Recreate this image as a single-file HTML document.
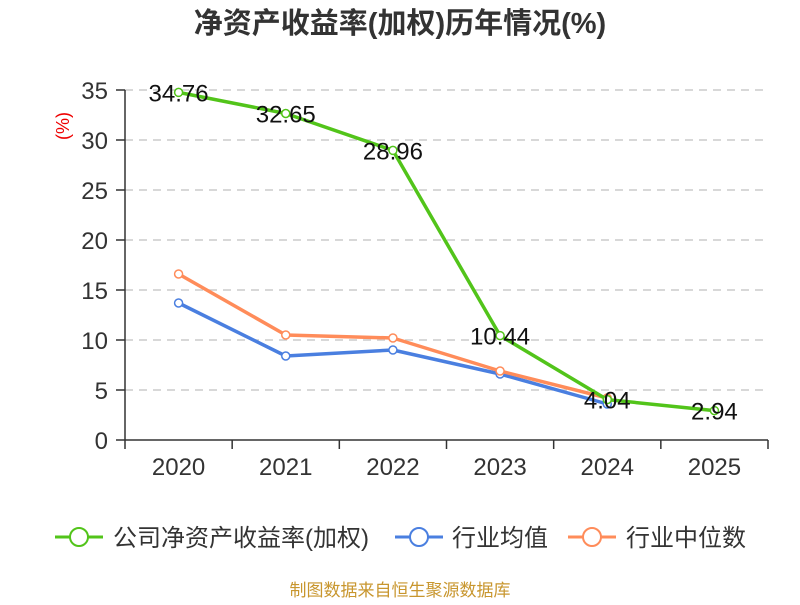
<!DOCTYPE html>
<html><head><meta charset="utf-8">
<style>
body{margin:0;background:#fff;}
svg text{font-family:"Liberation Sans","Noto Sans CJK SC",sans-serif;}
</style></head>
<body>
<svg id="chart" width="800" height="600" xmlns="http://www.w3.org/2000/svg">
<text x="400" y="33" text-anchor="middle" font-size="29" font-weight="bold" fill="#333">净资产收益率(加权)历年情况(%)</text>
<text transform="translate(69,126) rotate(-90)" text-anchor="middle" font-size="18" fill="#e00">(%)</text>
<g id="grid"></g><g id="axes"></g><g id="series"></g>
<g font-size="24" fill="#333">
 <g><line x1="55" y1="537" x2="103" y2="537" stroke="#52c41a" stroke-width="3"/><circle cx="79" cy="537" r="9" fill="#fff" stroke="#52c41a" stroke-width="2"/><text x="113" y="546">公司净资产收益率(加权)</text></g>
 <g><line x1="395" y1="537" x2="443" y2="537" stroke="#4a7fe0" stroke-width="3"/><circle cx="419" cy="537" r="9" fill="#fff" stroke="#4a7fe0" stroke-width="2"/><text x="452" y="546">行业均值</text></g>
 <g><line x1="568" y1="537" x2="616" y2="537" stroke="#ff8c5a" stroke-width="3"/><circle cx="592" cy="537" r="9" fill="#fff" stroke="#ff8c5a" stroke-width="2"/><text x="626" y="546">行业中位数</text></g>
</g>
<text x="400" y="596" text-anchor="middle" font-size="17" fill="#c8962e">制图数据来自恒生聚源数据库</text>
</svg>
<script>
const categories=["2020","2021","2022","2023","2024","2025"];
const companyValues=[34.76,32.65,28.96,10.44,4.04,2.94];
const industryMean=[13.7,8.4,9.0,6.6,3.6,null];
const industryMedian=[16.6,10.5,10.2,6.9,4.2,null];
const yTicks=[0,5,10,15,20,25,30,35];
const NS="http://www.w3.org/2000/svg";
const L=125,R=768,T=90,B=440,yMax=35;
const bw=(R-L)/categories.length;
const x=i=>L+bw*(i+0.5);
const y=v=>B-(v/yMax)*(B-T);
function mk(tag,attrs,parent){const e=document.createElementNS(NS,tag);for(const k in attrs)e.setAttribute(k,attrs[k]);parent.appendChild(e);return e;}
const grid=document.getElementById('grid'),axes=document.getElementById('axes'),ser=document.getElementById('series');
yTicks.forEach(t=>{
 if(t>0){const g=mk('line',{x1:L,x2:R,y1:y(t),y2:y(t),stroke:'#ccc','stroke-dasharray':'8,6','stroke-width':1.5},grid);
 
 }
 const tk=mk('line',{x1:L-9,x2:L,y1:y(t),y2:y(t),stroke:'#333','stroke-width':1.5},axes);
 
 
 const tx=mk('text',{x:L-17,y:y(t)+9,'text-anchor':'end','font-size':24,fill:'#333'},axes);tx.textContent=t;
 
 
});
const ya=mk('line',{x1:L,x2:L,y1:T,y2:B,stroke:'#333','stroke-width':1.5},axes);


const xa=mk('line',{x1:L,x2:R,y1:B,y2:B,stroke:'#333','stroke-width':1.5},axes);


for(let i=0;i<=categories.length;i++){const tk=mk('line',{x1:L+bw*i,x2:L+bw*i,y1:B,y2:B+9,stroke:'#333','stroke-width':1.5},axes);
 
 }
categories.forEach((c,i)=>{const tx=mk('text',{x:x(i),y:B+35,'text-anchor':'middle','font-size':24,fill:'#333'},axes);tx.textContent=c;
 
 });
function series(vals,color,name,labels){
 const pts=vals.map((v,i)=>v==null?null:[x(i),y(v)]).filter(p=>p);
 const pl=mk('polyline',{points:pts.map(p=>p.join(',')).join(' '),fill:'none',stroke:color,'stroke-width':3.5,'stroke-linejoin':'round'},ser);
 
 
 vals.forEach((v,i)=>{if(v==null)return;
  const c=mk('circle',{cx:x(i),cy:y(v),r:4,fill:'#fff',stroke:color,'stroke-width':1.5},ser);
  
  
  if(labels){const t=mk('text',{x:x(i),y:y(v)+9,'text-anchor':'middle','font-size':24,fill:'#111'},ser);t.textContent=v.toFixed(2);
   
   }
 });
}
series(industryMean,'#4a7fe0','industry-mean',false);
series(industryMedian,'#ff8c5a','industry-median',false);
series(companyValues,'#52c41a','company-roe',true);
</script>
</body></html>
